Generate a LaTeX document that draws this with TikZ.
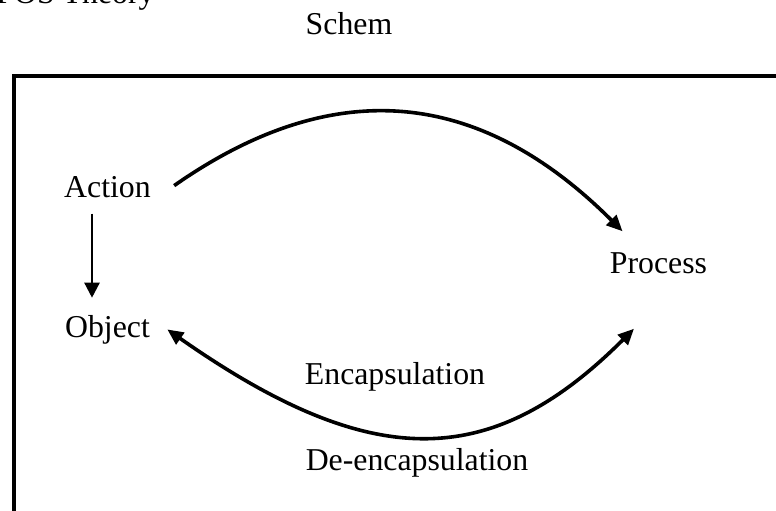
\documentclass[tikz,border=0pt]{standalone}
\usepackage{fontspec}
\setmainfont{Liberation Serif}
\usepackage{tikz}
\usetikzlibrary{calc}
\usetikzlibrary{positioning}
\usetikzlibrary{arrows.meta}

\begin{document}
\begin{tikzpicture}[x=0.5pt,y=0.5pt,
  every node/.style={inner sep=0pt, font=\fontsize{15.9}{19}\selectfont},
  arc/.style={line width=1.8pt, -{Triangle[length=8pt,width=7pt]}},
  twoarc/.style={line width=1.8pt,
    {Triangle[length=8pt,width=7pt]}-{Triangle[length=8pt,width=7pt]}},
  down/.style={line width=1.2pt, -{Triangle[length=7.5pt,width=7.5pt]}}]
\useasboundingbox (0,0) rectangle (776,510);
\fill[white] (0,0) rectangle (776,510);
% frame (runs off the page)
\draw[line width=2pt] (13.5,-40) rectangle (820,434);
\node[anchor=base east] (title) at (155,506.5) {APOS Theory};
\node[anchor=base] (schem) at (349,475) {Schem};

\node[anchor=base] (Action) at (107.5,313) {Action};
\node[below=58.75pt of Action] (Object) {Object};
\node[anchor=base] (Process) at (658.5,237) {Process};
\node[anchor=base] (encap) at (395,126) {Encapsulation};
\node[anchor=base] (deencap) at (417,40) {De-encapsulation};

\draw[down, shorten <=8pt, shorten >=8.75pt]
  ([xshift=-7.75pt]Action.south) -- ([xshift=-7.75pt]Object.north);
\draw[arc] ([shift={(23,1)}]Action.east)
  .. controls +(150,105) and +(-151,151) .. ([shift={(13,20.5)}]Process.north west);
\draw[twoarc] ([shift={(17,0.6)}]Object.east)
  .. controls +(204,-143) and +(-143,-143) .. ([shift={(-24.5,-55)}]Process.south);
\end{tikzpicture}
\end{document}
